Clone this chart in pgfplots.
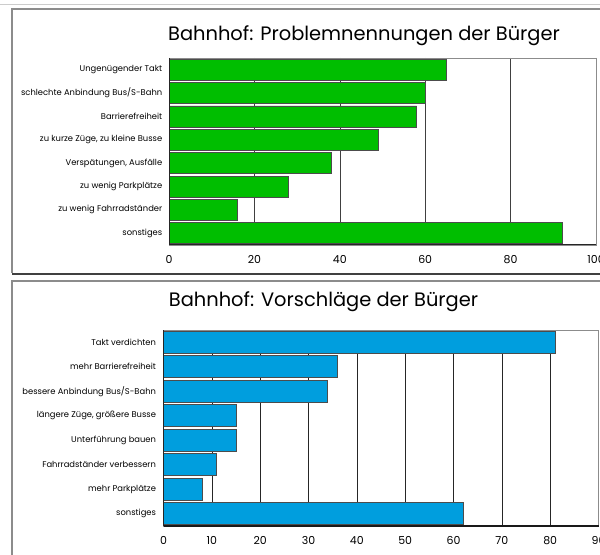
\documentclass[border=0pt]{standalone}
\usepackage{pgfplots}
\pgfplotsset{compat=1.18}
\usepackage{fontspec}
\setmainfont{Poppins}
\definecolor{bargreen}{RGB}{0,190,0}
\definecolor{barblue}{RGB}{0,158,222}
\definecolor{framegray}{RGB}{140,140,140}
\begin{document}
\begin{tikzpicture}[x=1bp,y=1bp]
\path[use as bounding box] (0,0) rectangle (600,555);
\clip (0,0) rectangle (600,555);
% frames
\draw[gray!40, line width=0.8bp] (0,551) -- (600,551);
\draw[framegray, line width=1.2bp] (12,282) -- (12,546) -- (604,546);
\draw[black!75, line width=1.2bp] (12,281) -- (604,281);
\draw[framegray, line width=1.2bp] (12,-5) -- (12,274) -- (604,274);
% titles
\node[font=\fontsize{19.5}{22}\selectfont, anchor=base] at (364,514) {Bahnhof: Problemnennungen der Bürger};
\node[font=\fontsize{19.5}{22}\selectfont, anchor=base] at (323.5,248) {Bahnhof: Vorschläge der Bürger};
% top axis
\begin{axis}[
  at={(169bp,310bp)}, anchor=south west,
  width=427bp, height=187bp, scale only axis,
  xmin=0, xmax=100, ymin=-0.5, ymax=7.5, y dir=reverse,
  xtick={0,20,40,60,80,100},
  ytick={0,...,7},
  yticklabels={Ungenügender Takt, schlechte Anbindung Bus/S-Bahn, Barrierefreiheit, {zu kurze Züge, zu kleine Busse}, {Verspätungen, Ausfälle}, zu wenig Parkplätze, zu wenig Fahrradständer, sonstiges},
  yticklabel style={font=\fontsize{8.4}{10}\selectfont, xshift=1bp},
  xticklabel style={font=\fontsize{11}{12}\selectfont, yshift=-7bp},
  /pgf/number format/assume math mode=true,
  xmajorgrids, grid style={black!75, line width=0.6bp},
  axis line style={framegray, line width=0.8bp},
  tick style={draw=none},
  xbar, bar width=21bp, bar shift=0pt,
]
\addplot[fill=bargreen, draw=black!70, line width=0.7bp] coordinates {
(65,0) (60,1) (58,2) (49,3) (38,4) (28,5) (16,6) (92,7)};
\end{axis}
\draw[black!85, line width=1bp] (current axis.south west) -- (current axis.south east);
\draw[black!85, line width=0.8bp] (current axis.south west) -- (current axis.north west);
% bottom axis
\begin{axis}[
  at={(163.5bp,29bp)}, anchor=south west,
  width=435bp, height=196bp, scale only axis,
  xmin=0, xmax=90, ymin=-0.5, ymax=7.5, y dir=reverse,
  xtick={0,10,...,90},
  ytick={0,...,7},
  yticklabels={Takt verdichten, mehr Barrierefreiheit, bessere Anbindung Bus/S-Bahn, {längere Züge, größere Busse}, Unterführung bauen, Fahrradständer verbessern, mehr Parkplätze, sonstiges},
  yticklabel style={font=\fontsize{8.4}{10}\selectfont, xshift=-1bp},
  xticklabel style={font=\fontsize{11}{12}\selectfont, yshift=-7bp},
  /pgf/number format/assume math mode=true,
  xmajorgrids, grid style={black!85, line width=0.6bp},
  axis line style={framegray, line width=0.8bp},
  ytick style={draw=none},
  xtick pos=upper, xtick style={black, line width=0.6bp}, major tick length=3bp,
  xticklabel pos=lower,
  xbar, bar width=22bp, bar shift=0pt,
]
\addplot[fill=barblue, draw=black!70, line width=0.7bp] coordinates {
(81,0) (36,1) (34,2) (15,3) (15,4) (11,5) (8,6) (62,7)};
\end{axis}
\draw[black!90, line width=1.2bp] (current axis.south west) -- (current axis.south east);
\draw[black!85, line width=0.8bp] (current axis.south west) -- (current axis.north west);
\end{tikzpicture}
\end{document}
